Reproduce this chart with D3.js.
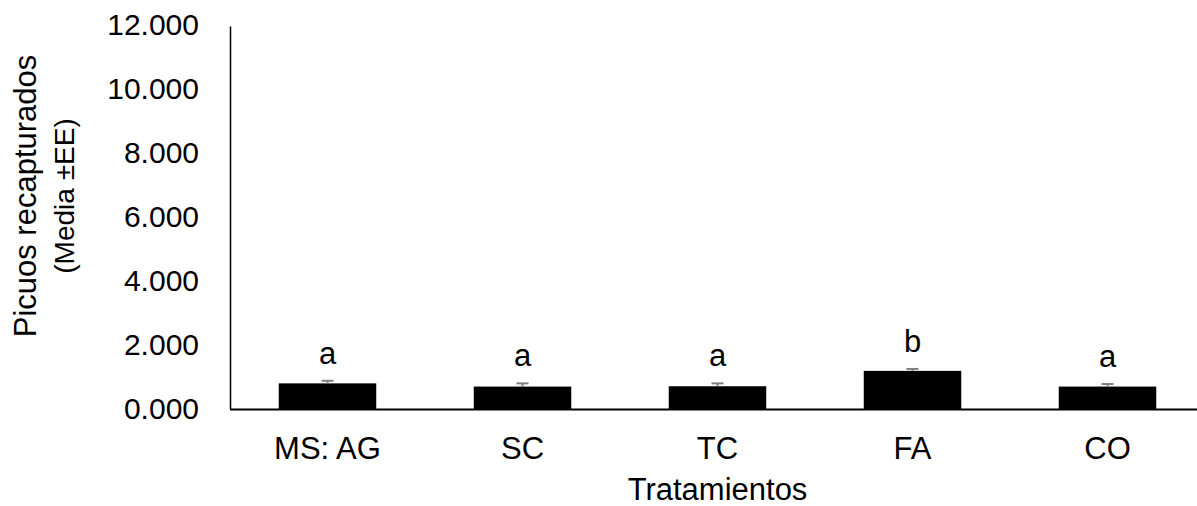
<!DOCTYPE html>
<html>
<head>
<meta charset="utf-8">
<script src="https://cdn.jsdelivr.net/npm/d3@7"></script>
<style>
  html, body { margin: 0; padding: 0; background: #fff; }
  svg { display: block; font-family: "Liberation Sans", Arial, sans-serif; }
</style>
</head>
<body>
<svg id="chart" width="1197" height="506"></svg>
<script>
const categories = ["MS: AG", "SC", "TC", "FA", "CO"];
const means = [0.80, 0.70, 0.71, 1.19, 0.70];
const errors = [0.08, 0.10, 0.09, 0.06, 0.08];
const letters = ["a", "a", "a", "b", "a"];
const yTicks = [0, 2, 4, 6, 8, 10, 12];
const yTitle = ["Picuos recapturados", "(Media \u00B1EE)"];
const xTitle = "Tratamientos";

const svg = d3.select("#chart");
const mLeft = 230, mRight = 1205, mTop = 24.5, mBottom = 409;

const x = d3.scaleBand().domain(categories).range([mLeft, mRight])
  .paddingInner(0.5).paddingOuter(0.25);
const y = d3.scaleLinear().domain([0, 12]).range([mBottom, mTop]);

// Y axis
const yAxis = svg.append("g").attr("transform", `translate(${mLeft},0)`)
  .call(d3.axisLeft(y).tickValues(yTicks).tickSize(0).tickPadding(31)
    .tickFormat(d => d3.format(".3f")(d)));
yAxis.select(".domain").attr("stroke", "#000").attr("stroke-width", 1.5)
  .attr("d", `M0.5,${y(12) + 2}V${mBottom}`);
yAxis.selectAll("text").attr("font-size", 30).attr("fill", "#000")
  .attr("font-family", "Liberation Sans, Arial, sans-serif");

// Bars
svg.append("g").selectAll("rect").data(categories).join("rect")
  .attr("x", d => x(d))
  .attr("width", x.bandwidth())
  .attr("y", (d, i) => y(means[i]))
  .attr("height", (d, i) => y(0) - y(means[i]))
  .attr("fill", "#000");

// Error bars (upper)
const eb = svg.append("g").attr("stroke", "#808080").attr("stroke-width", 2);
categories.forEach((c, i) => {
  const cx = x(c) + x.bandwidth() / 2;
  eb.append("line").attr("x1", cx).attr("x2", cx)
    .attr("y1", y(means[i])).attr("y2", y(means[i] + errors[i]));
  eb.append("line").attr("x1", cx - 6).attr("x2", cx + 6)
    .attr("y1", y(means[i] + errors[i])).attr("y2", y(means[i] + errors[i]));
});

// Significance letters
svg.append("g").selectAll("text").data(categories).join("text")
  .attr("x", d => x(d) + x.bandwidth() / 2)
  .attr("y", (d, i) => y(means[i] + errors[i]) - 17)
  .attr("text-anchor", "middle")
  .attr("font-size", 31)
  .attr("fill", "#000")
  .text((d, i) => letters[i]);

// X axis
const xAxis = svg.append("g").attr("transform", `translate(0,${mBottom})`)
  .call(d3.axisBottom(x).tickSize(0).tickPadding(28));
xAxis.select(".domain").attr("stroke", "#000").attr("stroke-width", 2)
  .attr("d", `M${mLeft},0.5H1197`);
xAxis.selectAll("text").attr("font-size", 31).attr("fill", "#000")
  .attr("font-family", "Liberation Sans, Arial, sans-serif");

// X title
svg.append("text")
  .attr("x", (mLeft + mRight) / 2).attr("y", 500)
  .attr("text-anchor", "middle").attr("font-size", 31).attr("fill", "#000")
  .text(xTitle);

// Y title (two lines)
const cy = 196;
svg.append("text")
  .attr("transform", `translate(36,${cy}) rotate(-90)`)
  .attr("text-anchor", "middle").attr("font-size", 31).attr("fill", "#000")
  .text(yTitle[0]);
svg.append("text")
  .attr("transform", `translate(74,${cy}) rotate(-90)`)
  .attr("text-anchor", "middle").attr("font-size", 28).attr("fill", "#000")
  .text(yTitle[1]);
</script>
</body>
</html>
